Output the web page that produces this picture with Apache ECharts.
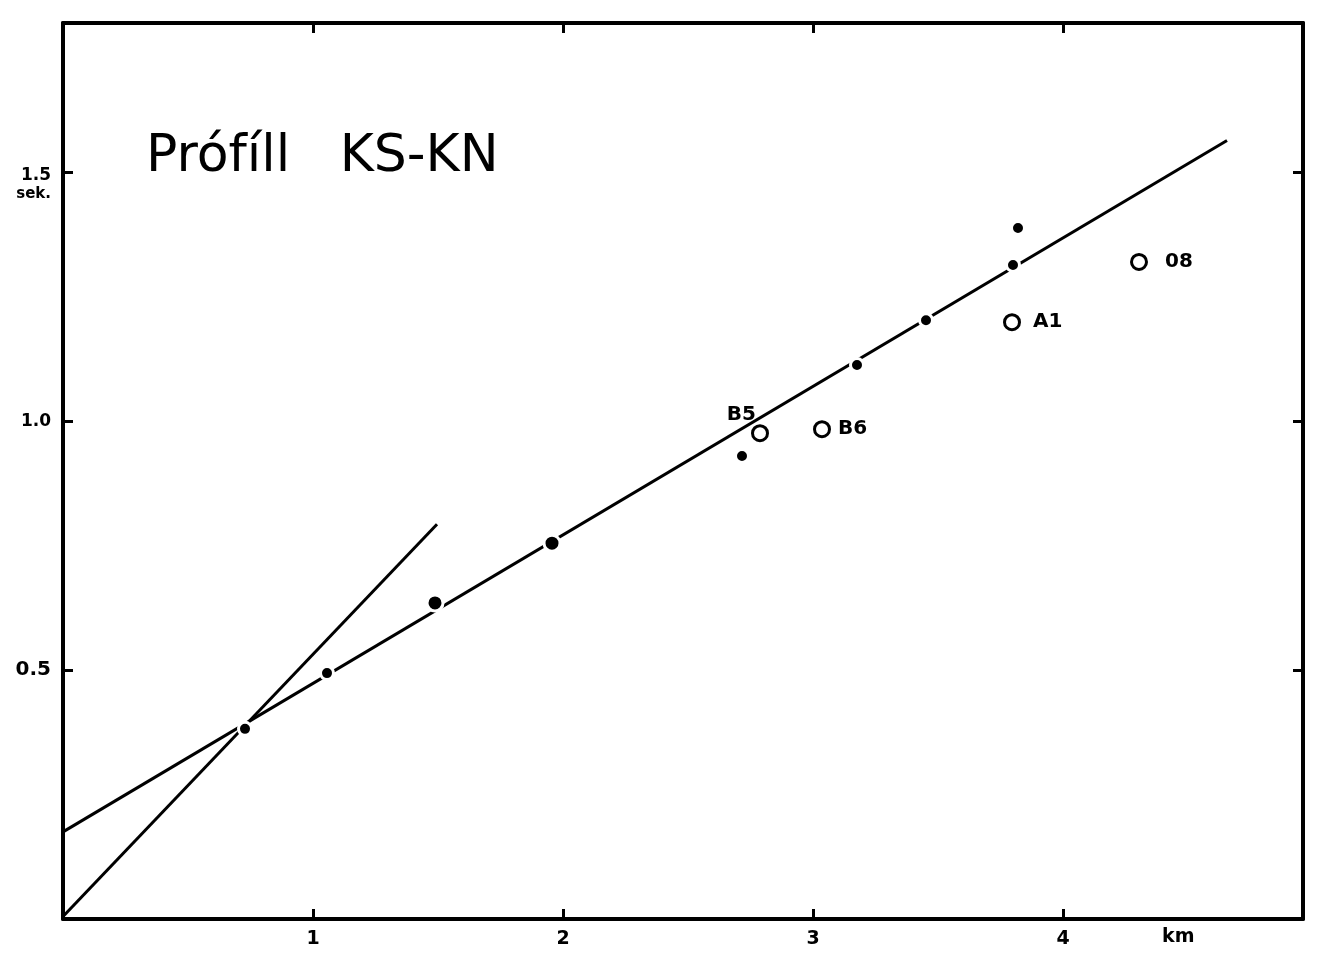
<!DOCTYPE html>
<html>
<head>
<meta charset="utf-8">
<script src="https://cdn.jsdelivr.net/npm/echarts@6/dist/echarts.min.js"></script>
<style>
html,body{margin:0;padding:0;background:#fff;}
#chart{width:1320px;height:955px;}
</style>
</head>
<body>
<div id="chart"></div>
<script>
// ---- data ----
const titleText = 'Prófíll   KS-KN';
const xUnit = 'km';
const yUnit = 'sek.';
const xTickValues = [1, 2, 3, 4];
const yTickValues = [0.5, 1.0, 1.5];

// filled dots (small)
const dotKm  = [0.728, 1.056, 2.716, 3.176, 3.452, 3.800, 3.820];
const dotSek = [0.382, 0.494, 0.930, 1.113, 1.203, 1.314, 1.388];
// filled dots (large)
const bigDotKm  = [1.488, 1.956];
const bigDotSek = [0.635, 0.755];
// open circles with station labels
const openNames = ['B5', 'B6', 'A1', '08'];
const openKm    = [2.788, 3.036, 3.796, 4.304];
const openSek   = [0.976, 0.984, 1.199, 1.320];
// fitted lines (end points)
const line1Km  = [0, 4.656];
const line1Sek = [0.175, 1.564];
const line2Km  = [0, 1.496];
const line2Sek = [0.005, 0.793];

const zip = (a, b) => a.map((v, i) => [v, b[i]]);

const labelFont = {color: '#000', fontFamily: 'DejaVu Sans', fontWeight: 'bold', fontSize: 20, opacity: 1};
const openLabelCfg = [
  {position: 'left', distance: 5, offset: [10, -18]},
  {position: 'right', distance: 7, offset: [0, 0]},
  {position: 'right', distance: 12, offset: [0, 0]},
  {position: 'right', distance: 17, offset: [0, 0]}
];

const chart = echarts.init(document.getElementById('chart'), null, {renderer: 'canvas'});

const axisCommonX = {
  type: 'value', min: 0, max: 4.96, interval: 1,
  axisLine: {show: true, onZero: false, lineStyle: {color: '#000', width: 4}},
  axisTick: {show: true, inside: true, length: 10, lineStyle: {color: '#000', width: 3}},
  splitLine: {show: false}
};
const axisCommonY = {
  type: 'value', min: 0, max: 1.8, interval: 0.5,
  axisLine: {show: true, onZero: false, lineStyle: {color: '#000', width: 4}},
  axisTick: {show: true, inside: true, length: 10, lineStyle: {color: '#000', width: 3}},
  splitLine: {show: false}
};

const option = {
  backgroundColor: '#fff',
  animation: false,
  title: {
    text: titleText, left: 141, top: 126,
    textStyle: {fontFamily: 'DejaVu Sans', fontWeight: 'normal', fontSize: 52, color: '#000'}
  },
  grid: {left: 63, right: 17, top: 23, bottom: 36, containLabel: false},
  xAxis: [
    Object.assign({}, axisCommonX, {
      position: 'bottom',
      axisLabel: {
        show: true, margin: 11, color: '#000', fontFamily: 'DejaVu Sans', fontWeight: 'bold', fontSize: 19,
        formatter: v => xTickValues.includes(v) ? String(v) : ''
      }
    }),
    Object.assign({}, axisCommonX, {position: 'top', axisLabel: {show: false}})
  ],
  yAxis: [
    Object.assign({}, axisCommonY, {
      position: 'left',
      axisLabel: {
        show: true, margin: 12, color: '#000', fontFamily: 'DejaVu Sans', fontWeight: 'bold', fontSize: 16,
        formatter: v => {
          const hit = yTickValues.find(t => Math.abs(t - v) < 1e-9);
          if (hit === undefined) return '';
          if (hit === 1.5) return '{e|}\n{n|' + hit.toFixed(1) + '}\n{s|' + yUnit + '}';
          if (hit === 0.5) return '{b|' + hit.toFixed(1) + '}';
          return '{n|' + hit.toFixed(1) + '}';
        },
        rich: {
          e: {fontSize: 14, lineHeight: 25},
          n: {fontSize: 17, lineHeight: 19, fontWeight: 'bold', fontFamily: 'DejaVu Sans', color: '#000'},
          b: {fontSize: 20, lineHeight: 22, fontWeight: 'bold', fontFamily: 'DejaVu Sans', color: '#000'},
          s: {fontSize: 15, lineHeight: 19, fontWeight: 'bold', fontFamily: 'DejaVu Sans', color: '#000'}
        }
      }
    }),
    Object.assign({}, axisCommonY, {position: 'right', axisLabel: {show: false}})
  ],
  graphic: [
    {type: 'text', left: 1162, top: 928,
     style: {text: xUnit, fill: '#000', font: 'bold 19px "DejaVu Sans"'}}
  ],
  series: [
    {type: 'line', data: zip(line1Km, line1Sek), showSymbol: false, symbol: 'none',
     lineStyle: {color: '#000', width: 3}, z: 2},
    {type: 'line', data: zip(line2Km, line2Sek), showSymbol: false, symbol: 'none',
     lineStyle: {color: '#000', width: 3}, z: 2},
    {type: 'scatter', data: zip(dotKm, dotSek), symbol: 'circle', symbolSize: 13,
     itemStyle: {color: '#000', borderColor: '#fff', borderWidth: 3, opacity: 1}, z: 3},
    {type: 'scatter', data: zip(bigDotKm, bigDotSek), symbol: 'circle', symbolSize: 16,
     itemStyle: {color: '#000', borderColor: '#fff', borderWidth: 3, opacity: 1}, z: 3},
    {type: 'scatter', symbol: 'circle', symbolSize: 15,
     itemStyle: {color: '#fff', borderColor: '#000', borderWidth: 3, opacity: 1}, z: 4,
     data: openNames.map((n, i) => ({
       name: n, value: [openKm[i], openSek[i]],
       label: Object.assign({show: true, formatter: '{b}'}, labelFont, openLabelCfg[i])
     }))}
  ]
};
chart.setOption(option);
</script>
</body>
</html>
